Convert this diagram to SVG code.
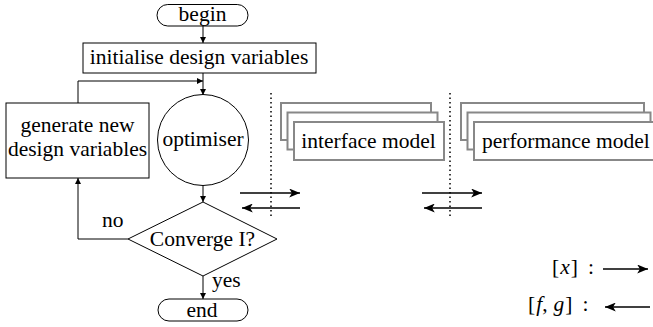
<svg xmlns="http://www.w3.org/2000/svg" width="653" height="327" viewBox="0 0 653 327">
  <style>
    text { font-family: "Liberation Serif", "Times New Roman", serif; font-size: 21.5px; fill: #000; }
    .node { fill: #fff; stroke: #000; stroke-width: 1; }
    .model { fill: #fff; stroke: #888; stroke-width: 2; }
    .flow { fill: none; stroke: #000; stroke-width: 1; marker-end: url(#tip); }
    .xfer { fill: none; stroke: #000; stroke-width: 1.5; marker-end: url(#bigtip); }
    .sep { stroke: #000; stroke-width: 1.5; stroke-dasharray: 1.5 3; }
  </style>
  <defs>
    <marker id="tip" viewBox="0 0 10 10" refX="10" refY="5" markerWidth="6" markerHeight="6" markerUnits="userSpaceOnUse" orient="auto">
      <path d="M0,0 L10,5 L0,10 z" fill="#000"/>
    </marker>
    <marker id="bigtip" viewBox="0 0 12 10" refX="12" refY="5" markerWidth="11" markerHeight="9" markerUnits="userSpaceOnUse" orient="auto">
      <path d="M0,0 L12,5 L0,10 L3,5 z" fill="#000"/>
    </marker>
  </defs>

  <!-- flowchart connectors -->
  <g id="connectors">
    <path class="flow" d="M203,26 V43"/>
    <path class="flow" d="M203,73 V95"/>
    <path class="flow" d="M78,103 V81 H203"/>
    <path class="flow" d="M203,185 V202"/>
    <path class="flow" d="M128,239 H78 V178"/>
    <path class="flow" d="M203,276 V299"/>
    <!-- data exchange between optimiser and models -->
    <path class="xfer" d="M240,193 H300"/>
    <path class="xfer" d="M300,208 H242"/>
    <path class="xfer" d="M422,193 H482"/>
    <path class="xfer" d="M482,208 H424"/>
    <!-- legend arrows -->
    <path class="xfer" d="M603,269 H648"/>
    <path class="xfer" d="M650,307 H605"/>
  </g>

  <!-- process boundaries -->
  <line class="sep" x1="271" y1="93" x2="271" y2="216"/>
  <line class="sep" x1="450" y1="93" x2="450" y2="216"/>

  <g id="begin">
    <rect class="node" x="157" y="4.5" width="91" height="21.5" rx="10.75"/>
    <text x="202.5" y="21" text-anchor="middle">begin</text>
  </g>

  <g id="init">
    <rect class="node" x="83" y="43" width="233" height="30"/>
    <text x="199" y="64" text-anchor="middle">initialise design variables</text>
  </g>

  <g id="generate">
    <rect class="node" x="6" y="103" width="143" height="75"/>
    <text x="77.5" y="132" text-anchor="middle">generate new</text>
    <text x="77.5" y="155.5" text-anchor="middle">design variables</text>
  </g>

  <g id="optimiser">
    <circle class="node" cx="203" cy="140" r="45.5"/>
    <text x="203" y="145.5" text-anchor="middle">optimiser</text>
  </g>

  <g id="converge">
    <path class="node" d="M203,202 L277,239 L203,276 L128,239 z"/>
    <text x="202.5" y="245.5" text-anchor="middle">Converge I?</text>
  </g>
  <text x="102" y="227">no</text>
  <text x="212" y="287">yes</text>

  <g id="end">
    <rect class="node" x="158" y="299" width="90" height="22" rx="11"/>
    <text x="202" y="317" text-anchor="middle">end</text>
  </g>

  <g id="interface-model">
    <rect class="model" x="281" y="103" width="150" height="37"/>
    <rect class="model" x="287.5" y="112.5" width="150" height="37"/>
    <rect class="model" x="294" y="122" width="150" height="38"/>
    <text x="368.5" y="148" text-anchor="middle">interface model</text>
  </g>

  <g id="performance-model">
    <rect class="model" x="461" y="103" width="183" height="37"/>
    <rect class="model" x="467.5" y="112.5" width="183" height="37"/>
    <rect class="model" x="474" y="122" width="183" height="38"/>
    <text x="482" y="147.5">performance model</text>
  </g>

  <!-- legend -->
  <text x="552" y="274">[<tspan font-style="italic" dx="1">x</tspan><tspan dx="1">]</tspan><tspan dx="10">:</tspan></text>
  <text x="528" y="311">[<tspan font-style="italic" dx="1">f</tspan>,<tspan font-style="italic" dx="6">g</tspan><tspan dx="1">]</tspan><tspan dx="10">:</tspan></text>
</svg>
